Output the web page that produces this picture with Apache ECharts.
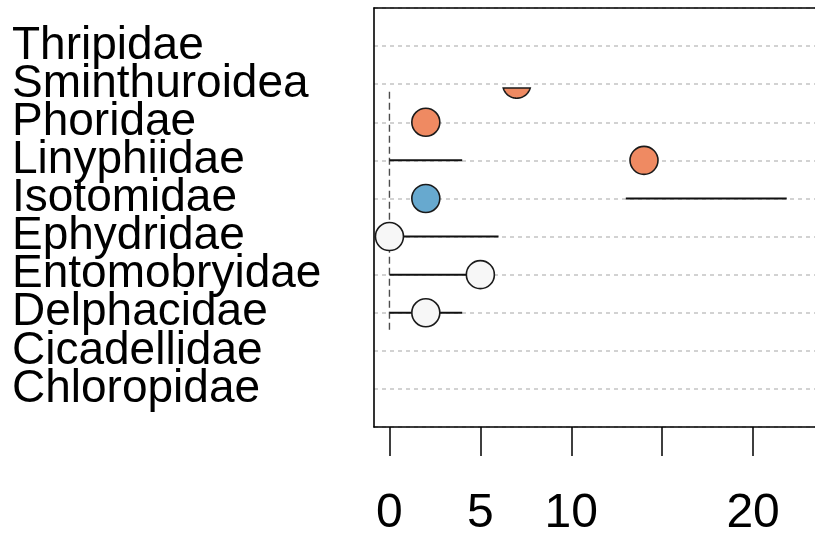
<!DOCTYPE html>
<html>
<head>
<meta charset="utf-8">
<script src="https://cdn.jsdelivr.net/npm/echarts@6/dist/echarts.min.js"></script>
<style>
  html, body { margin: 0; padding: 0; background: #ffffff; }
  #chart { width: 815px; height: 535px; }
</style>
</head>
<body>
<div id="chart"></div>
<script>
// Families, listed top to bottom
const families = ['Thripidae', 'Sminthuroidea', 'Phoridae', 'Linyphiidae', 'Isotomidae',
                  'Ephydridae', 'Entomobryidae', 'Delphacidae', 'Cicadellidae', 'Chloropidae'];
// Point estimate per family (null = not drawn)
const effectValues = [null, 7, 2, 14, 2, 0, 5, 2, null, null];
// Class of each point, used for the fill colour
const effectClass = [null, 'pos', 'pos', 'pos', 'neg', 'ns', 'ns', 'ns', null, null];
// Interval segments per row
const intervalLow  = [null, null, null, 0, 13, 0, 0, 0, null, null];
const intervalHigh = [null, null, null, 4, 21.85, 6, 5, 4, null, null];
// Axis ticks and labels
const xTickValues = [0, 5, 10, 15, 20];
const xLabelValues = [0, 5, 10, 20];
// Vertical extent of the reference line at zero (row units, bottom row = 1)
const zeroLineSpan = [2.55, 8.9];

const classColors = { pos: '#EF8A62', neg: '#67A9CF', ns: '#F7F7F7' };
const FONT = '"Liberation Sans", Arial, Helvetica, sans-serif';
const nRows = families.length;
const rowY = i => nRows - i;

const pointData = [];
const intervalData = [];
families.forEach((f, i) => {
  if (effectValues[i] !== null) pointData.push([effectValues[i], rowY(i), i]);
  if (intervalLow[i] !== null) intervalData.push([intervalLow[i], intervalHigh[i], rowY(i)]);
});

// Circle outline limited to a horizontal band [top, bottom] (pixel y)
function bandedCircle(cx, cy, r, top, bottom) {
  const steps = 120;
  const pts = [];
  let prev = null;
  const inside = p => p[1] >= top - 1e-6 && p[1] <= bottom + 1e-6;
  for (let k = 0; k <= steps; k++) {
    const a = (2 * Math.PI * k) / steps;
    const p = [cx + r * Math.cos(a), cy + r * Math.sin(a)];
    if (prev) {
      [top, bottom].forEach(b => {
        if ((prev[1] - b) * (p[1] - b) < 0) {
          const t = (b - prev[1]) / (p[1] - prev[1]);
          pts.push([prev[0] + t * (p[0] - prev[0]), b]);
        }
      });
    }
    if (inside(p)) pts.push(p);
    prev = p;
  }
  return pts;
}

const chart = echarts.init(document.getElementById('chart'), null, { renderer: 'canvas' });

const axisX = {
  type: 'value',
  min: -0.85,
  max: 25
};

chart.setOption({
  animation: false,
  backgroundColor: '#ffffff',
  grid: {
    left: 374, top: 8, width: 470, height: 419,
    containLabel: false,
    outerBoundsMode: 'none'
  },
  xAxis: [
    Object.assign({}, axisX, {
      position: 'bottom',
      z: 3,
      axisLine: { show: true, onZero: false, lineStyle: { color: '#000', width: 1.6 } },
      axisTick: { show: true, length: 29, customValues: xTickValues,
                  lineStyle: { color: '#000', width: 1.5 } },
      axisLabel: { show: true, customValues: xLabelValues, margin: 63,
                   fontSize: 48, fontFamily: FONT, color: '#000' },
      splitLine: { show: false }
    }),
    Object.assign({}, axisX, {
      position: 'top',
      z: 3,
      axisLine: { show: true, onZero: false, lineStyle: { color: '#000', width: 1.6 } },
      axisTick: { show: false },
      axisLabel: { show: false },
      splitLine: { show: false }
    })
  ],
  yAxis: {
    type: 'value',
    min: 0, max: nRows + 1, interval: 1,
    axisLine: { show: true, onZero: false, lineStyle: { color: '#000', width: 1.6 } },
    axisTick: { show: false },
    axisLabel: {
      show: true, align: 'left', margin: 362,
      fontSize: 46, fontFamily: FONT, color: '#000',
      formatter: v => (v >= 1 && v <= nRows) ? families[nRows - v] : ''
    },
    splitLine: { show: true, lineStyle: { color: '#c4c4c4', width: 1.5, type: [4, 4] } }
  },
  series: [
    {
      // dashed reference line at zero
      type: 'custom',
      name: 'zero',
      xAxisIndex: 0, yAxisIndex: 0,
      z: 2,
      data: [[0, zeroLineSpan[0], zeroLineSpan[1]]],
      encode: { x: 0, y: [1, 2] },
      renderItem: (params, api) => {
        const a = api.coord([api.value(0), api.value(1)]);
        const b = api.coord([api.value(0), api.value(2)]);
        return {
          type: 'line',
          shape: { x1: a[0], y1: a[1], x2: b[0], y2: b[1] },
          style: { stroke: '#4d4d4d', lineWidth: 1.4, lineDash: [7, 4] }
        };
      }
    },
    {
      // interval segments
      type: 'custom',
      name: 'intervals',
      xAxisIndex: 0, yAxisIndex: 0,
      z: 3,
      data: intervalData,
      encode: { x: [0, 1], y: 2 },
      renderItem: (params, api) => {
        const a = api.coord([api.value(0), api.value(2)]);
        const b = api.coord([api.value(1), api.value(2)]);
        return {
          type: 'line',
          shape: { x1: a[0], y1: a[1], x2: b[0], y2: b[1] },
          style: { stroke: '#111111', lineWidth: 2 }
        };
      }
    },
    {
      // point estimates
      type: 'custom',
      name: 'points',
      xAxisIndex: 0, yAxisIndex: 0,
      z: 4,
      data: pointData,
      encode: { x: 0, y: 1 },
      renderItem: (params, api) => {
        const c = api.coord([api.value(0), api.value(1)]);
        const idx = api.value(2);
        const top = api.coord([0, zeroLineSpan[1]])[1];
        const bottom = api.coord([0, zeroLineSpan[0]])[1];
        const r = 14;
        const style = { fill: classColors[effectClass[idx]], stroke: '#1a1a1a', lineWidth: 1.6 };
        if (c[1] - r >= top && c[1] + r <= bottom) {
          return { type: 'circle', shape: { cx: c[0], cy: c[1], r: r }, style: style };
        }
        return { type: 'polygon', shape: { points: bandedCircle(c[0], c[1], r, top, bottom) }, style: style };
      }
    }
  ]
});
</script>
</body>
</html>
